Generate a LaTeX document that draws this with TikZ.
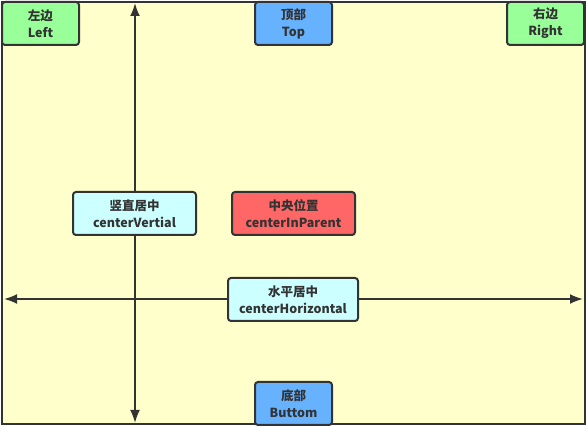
\documentclass[tikz,border=0pt]{standalone}
\usepackage{fontspec}
\setmainfont{Noto Sans CJK SC}
\usetikzlibrary{arrows.meta}
\definecolor{bg}{HTML}{FFFFCC}
\definecolor{ln}{HTML}{333333}
\definecolor{cgreen}{HTML}{99FF99}
\definecolor{cblue}{HTML}{66B2FF}
\definecolor{cred}{HTML}{FF6666}
\definecolor{ccyan}{HTML}{CCFFFF}
\tikzset{
  box/.style={draw=ln, line width=2pt, rounded corners=3pt, minimum height=43pt,
    align=center, inner sep=0pt, text=ln, font=\fontsize{12.5}{17}\selectfont\bfseries},
  small/.style={box, minimum width=77pt},
  wide/.style={box, minimum width=123pt},
  arr/.style={draw=ln, line width=2pt, {Latex[length=13pt,width=10pt]}-{Latex[length=13pt,width=10pt]}}
}
\begin{document}
\begin{tikzpicture}[x=1pt,y=-1pt]
\useasboundingbox (0,0) rectangle (587,427);
\fill[white] (0,0) rectangle (587,427);
\draw[fill=bg, draw=ln, line width=2pt] (2,2) rectangle (585,424);
\coordinate (vt) at (135,3);
\coordinate (vb) at (135,423);
\coordinate (hl) at (4,299);
\coordinate (hr) at (583,299);
\draw[arr] (vt) -- (vb);
\draw[arr] (hl) -- (hr);
\node[small, fill=cgreen] (left) at (40.5,23.5) {左边\\Left};
\node[small, fill=cblue] (top) at (293.5,23.5) {顶部\\Top};
\node[small, fill=cgreen] (right) at (545.5,23.5) {右边\\Right};
\node[wide, fill=ccyan] (cv) at (134.5,213.5) {竖直居中\\centerVertial};
\node[wide, fill=cred] (cp) at (293.5,213.5) {中央位置\\centerInParent};
\node[box, minimum width=130pt, fill=ccyan] (ch) at (293,299.5) {水平居中\\centerHorizontal};
\node[small, fill=cblue] (bot) at (293.5,403.5) {底部\\Buttom};
\end{tikzpicture}
\end{document}
